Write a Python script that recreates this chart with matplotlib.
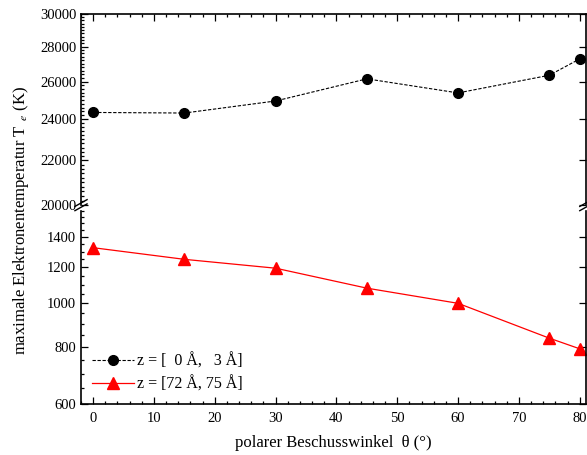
import numpy as np
import matplotlib.pyplot as plt
from matplotlib.ticker import FixedLocator, MultipleLocator, NullFormatter

plt.rcParams['font.family'] = ['Liberation Serif', 'DejaVu Serif']
plt.rcParams['mathtext.fontset'] = 'stix'

# data
theta = [0, 15, 30, 45, 60, 75, 80]
te_surface = [24350, 24320, 24950, 26150, 25380, 26350, 27280]   # z = [0, 3] A
te_deep = [1326, 1250, 1195, 1080, 1000, 838, 794]               # z = [72, 75] A

upper_ticks = [20000, 22000, 24000, 26000, 28000, 30000]
lower_ticks = [600, 800, 1000, 1200, 1400]

fig = plt.figure(figsize=(5.87, 4.55), dpi=100)
ax1 = fig.add_axes([0.138, 0.549, 0.860, 0.420])
ax2 = fig.add_axes([0.138, 0.112, 0.860, 0.425])

l1, = ax1.plot(theta, te_surface, color='black', ls=(0, (3, 1.5)), lw=0.8,
               marker='o', ms=7, mfc='black', mec='black')
l2, = ax2.plot(theta, te_deep, color='red', ls='-', lw=0.9,
               marker='^', ms=8, mfc='red', mec='red')

for ax in (ax1, ax2):
    ax.set_yscale('log')
    ax.set_xlim(-2, 81)
    ax.xaxis.set_major_locator(MultipleLocator(10))
    ax.xaxis.set_minor_locator(MultipleLocator(2))
    ax.tick_params(which='both', direction='in', labelsize=10.5, width=0.9)
    ax.tick_params(which='major', length=5)
    ax.tick_params(which='minor', length=2.5)
    for s in ax.spines.values():
        s.set_linewidth(1.2)

ax1.set_ylim(20000, 30000)
ax1.yaxis.set_major_locator(FixedLocator(upper_ticks))
ax1.yaxis.set_minor_locator(FixedLocator(np.arange(20000, 30001, 200)))
ax1.yaxis.set_major_formatter(plt.FuncFormatter(lambda v, p: '%d' % v))
ax1.yaxis.set_minor_formatter(NullFormatter())
ax1.spines['bottom'].set_visible(False)
ax1.tick_params(axis='x', which='both', bottom=False, top=True, labelbottom=False)
ax1.tick_params(axis='y', which='both', left=True, right=True)
ax1.tick_params(axis='y', which='minor', right=False)

ax2.set_ylim(600, 1600)
ax2.yaxis.set_major_locator(FixedLocator(lower_ticks))
ax2.yaxis.set_minor_locator(FixedLocator(np.arange(600, 1601, 50)))
ax2.yaxis.set_major_formatter(plt.FuncFormatter(lambda v, p: '%d' % v))
ax2.yaxis.set_minor_formatter(NullFormatter())
ax2.spines['top'].set_visible(False)
ax2.tick_params(axis='x', which='both', bottom=True, top=False, pad=6)
ax2.tick_params(axis='y', which='both', left=True, right=True)
ax2.tick_params(axis='y', which='minor', right=False)

# break marks on both spines
for xb in (0, 1):
    for dy in (0.0, 0.022):
        ax2.plot([xb - 0.012, xb + 0.012], [1.0 + dy, 1.035 + dy], color='black',
                 lw=1.0, transform=ax2.transAxes, clip_on=False)

ax2.set_xlabel('polarer Beschusswinkel  θ (°)', fontsize=12, labelpad=7)
fig.text(0.035, 0.515, 'maximale Elektronentemperatur T$_{\\ \\ e}$ (K)', rotation=90,
         ha='center', va='center', fontsize=12)

ax2.legend([l1, l2], ['z = [  0 Å,   3 Å]', 'z = [72 Å, 75 Å]'], loc='lower left',
           bbox_to_anchor=(0.0, 0.0), frameon=False, fontsize=11.5,
           handlelength=2.6, handletextpad=0.2, labelspacing=0.45, borderaxespad=0.3)

fig.savefig('out.png', dpi=100)
